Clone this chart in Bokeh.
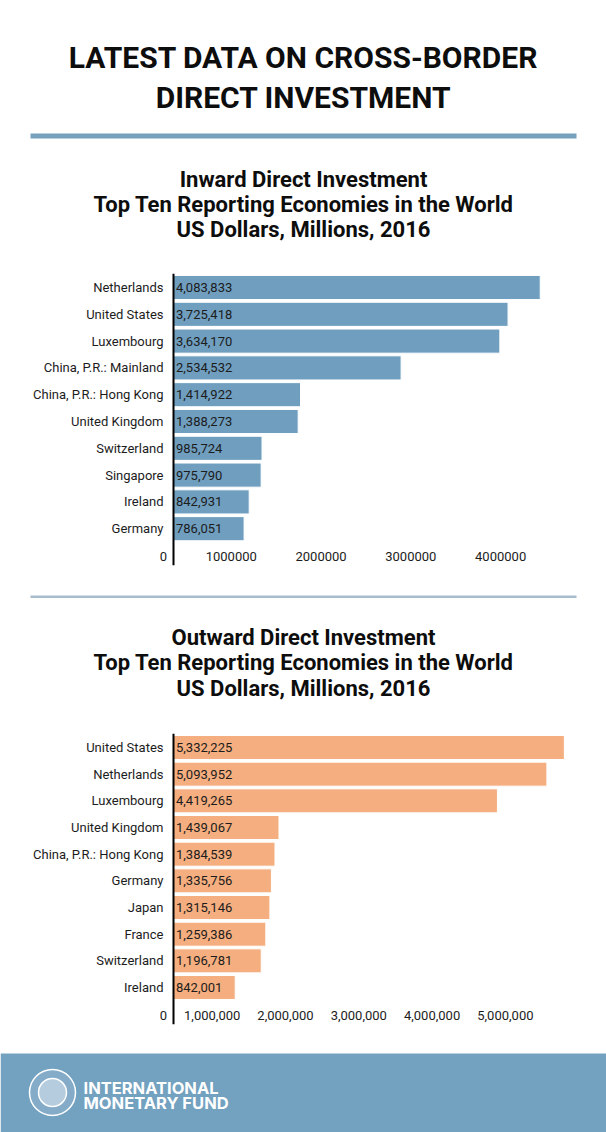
from bokeh.plotting import figure
from bokeh.models import Range1d, ColumnDataSource, Span
from bokeh.layouts import column
from bokeh.core.properties import value
from bokeh.embed import file_html
from bokeh.resources import INLINE

# ---------------- data ----------------
title_lines = ["LATEST DATA ON CROSS-BORDER", "DIRECT INVESTMENT"]

inward_title = ["Inward Direct Investment",
                "Top Ten Reporting Economies in the World",
                "US Dollars, Millions, 2016"]
inward_countries = ["Netherlands", "United States", "Luxembourg", "China, P.R.: Mainland",
                    "China, P.R.: Hong Kong", "United Kingdom", "Switzerland", "Singapore",
                    "Ireland", "Germany"]
inward_values = [4083833, 3725418, 3634170, 2534532, 1414922, 1388273, 985724, 975790,
                 842931, 786051]
inward_ticks = [0, 1000000, 2000000, 3000000, 4000000]
inward_tick_labels = ["0", "1000000", "2000000", "3000000", "4000000"]

outward_title = ["Outward Direct Investment",
                 "Top Ten Reporting Economies in the World",
                 "US Dollars, Millions, 2016"]
outward_countries = ["United States", "Netherlands", "Luxembourg", "United Kingdom",
                     "China, P.R.: Hong Kong", "Germany", "Japan", "France", "Switzerland",
                     "Ireland"]
outward_values = [5332225, 5093952, 4419265, 1439067, 1384539, 1335756, 1315146, 1259386,
                  1196781, 842001]
outward_ticks = [0, 1000000, 2000000, 3000000, 4000000, 5000000]
outward_tick_labels = ["0", "1,000,000", "2,000,000", "3,000,000", "4,000,000", "5,000,000"]

footer_lines = ["INTERNATIONAL", "MONETARY FUND"]

# ---------------- style ----------------
W = 606
FONT = "Roboto"
BLUE = "#6f9ebf"
ORANGE = "#f4ae7f"
BAND = "#73a1c0"
HEADLINE = "#77a0bd"
SEPLINE = "#a7bdce"
TXT = "#1c1c1c"


def canvas(h):
    p = figure(width=W, height=h, x_range=Range1d(0, W), y_range=Range1d(h, 0),
               toolbar_location=None, output_backend="svg",
               x_axis_location=None, y_axis_location=None,
               min_border=0, outline_line_color=None, frame_align=False)
    p.grid.visible = False
    return p


def text_lines(p, lines, ys, size, color="#111111", x=W / 2, align="center", font=FONT):
    src = ColumnDataSource(dict(x=[x] * len(lines), y=ys, t=lines))
    p.text(x="x", y="y", text="t", source=src, text_align=align, text_baseline="middle",
           text_font=value(font), text_font_style="bold", text_font_size=size,
           text_color=color)


def bar_chart(countries, values, ticks, tick_labels, color, px_per_unit, height, top,
              frame_h, first_offset, pitch, label_center):
    n = len(countries)
    ys = [n - 1 - i for i in range(n)]
    y_end = (n - 1) + first_offset / pitch
    y_start = y_end - frame_h / pitch
    frame_left, zero_px, frame_right = 10, 173, 576
    x_start = -(zero_px - frame_left) / px_per_unit
    x_end = (frame_right - zero_px) / px_per_unit
    bottom = height - top - frame_h

    p = figure(width=W, height=height, x_range=Range1d(x_start, x_end),
               y_range=Range1d(y_start, y_end),
               toolbar_location=None, output_backend="svg",
               x_axis_location=None, y_axis_location=None,
               min_border_left=frame_left, min_border_right=W - frame_right,
               min_border_top=top, min_border_bottom=bottom,
               outline_line_color=None, frame_align=False)
    p.grid.visible = False

    src = ColumnDataSource(dict(y=ys, v=values, name=countries,
                                lab=[f"{v:,}" for v in values]))
    p.hbar(y="y", left=0, right="v", height=0.9, source=src,
           fill_color=color, line_color="white", line_width=1)
    # value labels inside the bars
    p.text(x=0, y="y", text="lab", source=src, x_offset=2.5, text_baseline="middle",
           text_font=value(FONT), text_font_size="13px", text_color=TXT)
    # category labels left of the axis line
    p.text(x=0, y="y", text="name", source=src, x_offset=-10, text_align="right",
           text_baseline="middle", text_font=value(FONT), text_font_size="13px",
           text_color=TXT)
    # vertical axis line at zero
    p.add_layout(Span(location=0, dimension="height", line_color="black", line_width=2))

    # x tick labels: right-aligned just left of each tick position
    tick_y = y_end - label_center / pitch
    tsrc = ColumnDataSource(dict(x=ticks, y=[tick_y] * len(ticks), t=tick_labels))
    p.text(x="x", y="y", text="t", source=tsrc, text_align="right", text_baseline="middle",
           x_offset=-6.5, text_font=value(FONT), text_font_size="13px", text_color=TXT)
    return p


# ---- header + first subtitle (page y 0..262) ----
f1 = canvas(262)
text_lines(f1, title_lines, [57, 97], "30px", color="#0d0d0d")
f1.quad(left=30, right=W - 30, top=133, bottom=138, fill_color=HEADLINE, line_color=None)
text_lines(f1, inward_title, [179, 204, 229], "22px", color="#0d0d0d")

# ---- inward chart (page y 262..590) ----
f2 = bar_chart(inward_countries, inward_values, inward_ticks, inward_tick_labels,
               BLUE, 89.8e-6, height=328, top=11, frame_h=292, first_offset=14, pitch=26.8,
               label_center=556 - 273)

# ---- separator + second subtitle (page y 590..720) ----
f3 = canvas(130)
f3.quad(left=30, right=W - 30, top=5, bottom=7.5, fill_color=SEPLINE, line_color=None)
text_lines(f3, outward_title, [47, 72, 98], "22px", color="#0d0d0d")

# ---- outward chart (page y 720..1050) ----
f4 = bar_chart(outward_countries, outward_values, outward_ticks, outward_tick_labels,
               ORANGE, 73.3e-6, height=330, top=13, frame_h=291, first_offset=14,
               pitch=26.67, label_center=1015 - 733)

# ---- footer (page y 1050..1132) ----
f5 = canvas(82)
f5.quad(left=0, right=W, top=3, bottom=82, fill_color=BAND, line_color=None)
f5.circle(x=[52], y=[42], radius=23, fill_color="#8fb3cd", fill_alpha=0.6,
          line_color="white", line_width=1.5)
f5.circle(x=[52], y=[42], radius=14, fill_color="#c9dae7", fill_alpha=0.7,
          line_color="white", line_width=1.5)
text_lines(f5, footer_lines, [37.5, 52.5], "16.5px", color="white", x=83, align="left",
           font="Inter")

layout = column(f1, f2, f3, f4, f5, spacing=0)

with open("out.html", "w") as fh:
    fh.write(file_html(layout, INLINE))
